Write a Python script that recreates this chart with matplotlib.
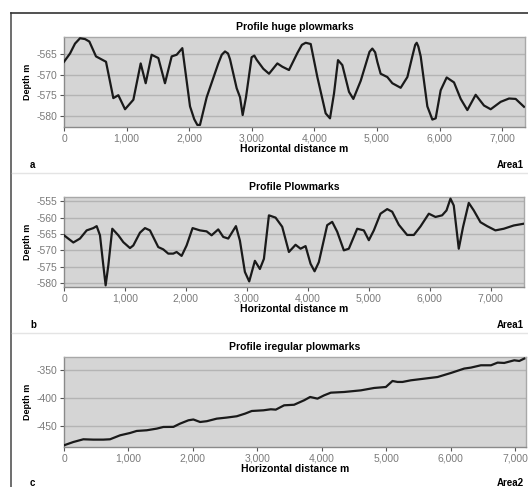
import matplotlib
matplotlib.use("Agg")
import matplotlib.pyplot as plt
import matplotlib.ticker as ticker
from matplotlib.lines import Line2D

plt.rcParams['font.family'] = ['Liberation Sans', 'DejaVu Sans']

# ---- data ----
# a: huge plowmarks (Area1)
dist_a = [0, 96, 176, 256, 335, 405, 511, 671, 788, 868, 975, 1108, 1225, 1305, 1400, 1507, 1613,
          1720, 1800, 1890, 2013, 2080, 2130, 2172, 2279, 2465, 2520, 2572, 2620, 2652, 2758, 2812, 2854,
          2907, 2997, 3040, 3077, 3184, 3275, 3408, 3488, 3594, 3727, 3800, 3861, 3941, 4047, 4180,
          4249, 4313, 4377, 4446, 4553, 4622, 4740, 4880, 4925, 4970, 5005, 5058, 5165, 5245, 5378,
          5485, 5564, 5610, 5634, 5660, 5698, 5804, 5884, 5937, 6017, 6113, 6230, 6337, 6443, 6576,
          6709, 6816, 6976, 7109, 7215, 7348]
depth_a = [-566.9, -564.9, -562.5, -561.2, -561.4, -562.0, -565.6, -566.9, -575.7, -575.0, -578.4, -576.1, -567.3,
           -572.1, -565.2, -566.0, -572.1, -565.6, -565.2, -563.6, -577.7, -580.8, -582.2, -582.2,
           -575.5, -567.3, -565.2, -564.4, -564.9, -566.3, -573.3, -575.5, -579.8, -575.5, -565.8, -565.4, -566.4,
           -568.6, -569.8, -567.3, -568.1, -568.9, -564.8, -562.8, -562.3, -562.6, -570.6, -579.4,
           -580.6, -574.6, -566.5, -567.7, -574.2, -575.9, -571.5, -564.5, -563.7, -564.6, -566.9, -569.8,
           -570.6, -572.1, -573.2, -570.6, -565.6, -562.8, -562.3, -563.2, -565.6, -577.7, -580.9, -580.6,
           -573.8, -570.7, -571.9, -575.9, -578.6, -574.9, -577.5, -578.4, -576.6, -575.8,
           -575.9, -577.8]

# b: plowmarks (Area1)
dist_b = [0, 153, 262, 372, 481, 536, 590, 645, 683, 727, 792, 891, 973, 1082, 1137, 1246,
          1328, 1410, 1546, 1628, 1710, 1792, 1847, 1929, 2011, 2109, 2230, 2339, 2421,
          2530, 2612, 2694, 2820, 2885, 2967, 3038, 3131, 3213, 3279, 3361, 3470, 3579,
          3689, 3798, 3880, 3962, 4044, 4110, 4180, 4317, 4399, 4481, 4590, 4672, 4809,
          4918, 5000, 5082, 5191, 5301, 5383, 5492, 5628, 5738, 5847, 5984, 6093, 6202,
          6274, 6339, 6393, 6475, 6546, 6639, 6721, 6831, 6940, 7076, 7213, 7377, 7530]
depth_b = [-565.4, -567.6, -566.4, -563.9, -563.2, -562.6, -565.4, -574.6, -580.7, -574.6,
           -563.4, -565.4, -567.5, -569.3, -568.5, -564.6, -563.2, -563.9, -569.0, -569.7,
           -571.0, -571.0, -570.5, -571.7, -568.5, -563.2, -563.9, -564.2, -565.4, -563.6,
           -565.9, -566.4, -562.6, -567.0, -576.6, -579.5, -573.2, -575.7, -572.6, -559.3,
           -560.0, -562.8, -570.5, -568.3, -569.5, -568.7, -574.1, -576.4, -573.6, -562.3,
           -561.3, -564.3, -570.0, -569.5, -563.4, -563.9, -566.9, -563.9, -558.8, -557.4,
           -558.2, -562.2, -565.3, -565.3, -562.7, -558.8, -559.8, -559.3, -557.8, -554.2,
           -556.3, -569.5, -562.8, -555.5, -557.8, -561.4, -562.6, -563.9, -563.4, -562.4,
           -561.9]

# c: irregular plowmarks (Area2)
dist_c = [0, 145, 300, 455, 610, 714, 870, 1025, 1128, 1284, 1439, 1542, 1698, 1801, 1931,
          2008, 2112, 2216, 2371, 2526, 2681, 2811, 2914, 3095, 3209, 3287, 3416, 3571,
          3727, 3820, 3934, 4037, 4141, 4348, 4607, 4814, 4995, 5098, 5176, 5253, 5383,
          5590, 5797, 6004, 6211, 6315, 6470, 6626, 6729, 6832, 6988, 7066, 7143]
depth_c = [-483.5, -477.7, -472.9, -473.5, -473.5, -472.9, -465.9, -461.8, -458.2, -457.0,
           -454.1, -451.2, -451.0, -445.3, -439.4, -438.0, -442.4, -441.0, -436.5, -434.6,
           -432.3, -427.6, -423.0, -421.8, -420.0, -420.6, -413.0, -412.0, -404.1, -398.3,
           -401.2, -395.4, -390.7, -389.5, -386.6, -382.4, -380.7, -370.1, -371.8, -371.8,
           -368.9, -366.0, -363.1, -356.0, -348.2, -346.5, -342.4, -342.4, -337.7, -338.3,
           -333.6, -334.8, -330.6]

titles = ["Profile huge plowmarks", "Profile Plowmarks", "Profile iregular plowmarks"]
letters = ["a", "b", "c"]
areas = ["Area1", "Area1", "Area2"]
yticks = [[-565, -570, -575, -580],
          [-555, -560, -565, -570, -575, -580],
          [-350, -400, -450]]
ylims = [(-582.7, -560.9), (-581.2, -553.7), (-486.5, -327.8)]
xlims = [7364, 7545, 7170]
series = [(dist_a, depth_a), (dist_b, depth_b), (dist_c, depth_c)]

W, H = 528, 487
fig = plt.figure(figsize=(W / 100, H / 100), dpi=100)
fig.patch.set_facecolor("white")

# panel boxes in pixels: (left, top, right, bottom)
boxes = [(64, 37, 525, 127), (64, 197, 524, 287), (64, 357, 526, 447)]
letter_y = [165, 325, 483]
sep_y = [173, 333]

AX_BG = "#d5d5d5"
GRID = "#b4b4b4"
TICK_C = "#7a7a7a"

for i, (x, y) in enumerate(series):
    l, t, r, b = boxes[i]
    ax = fig.add_axes([l / W, 1 - b / H, (r - l) / W, (b - t) / H])
    ax.set_facecolor(AX_BG)
    ax.plot(x, y, color="#1a1a1a", lw=1.6, solid_joinstyle="round", zorder=3)
    ax.set_xlim(0, xlims[i])
    ax.set_ylim(*ylims[i])
    ax.set_yticks(yticks[i])
    ax.set_xticks(range(0, 8000, 1000))
    ax.xaxis.set_major_formatter(ticker.FuncFormatter(lambda v, _: f"{v:,.0f}"))
    ax.yaxis.set_major_formatter(ticker.FuncFormatter(lambda v, _: f"{v:.0f}"))
    ax.grid(True, axis="y", color=GRID, lw=1.0, zorder=1)
    ax.tick_params(axis="both", colors="#555555", labelcolor=TICK_C, labelsize=7.5,
                   length=3, width=0.8, pad=2)
    for s in ax.spines.values():
        s.set_edgecolor("#a8a8a8")
        s.set_linewidth(1.0)
    ax.spines["bottom"].set_edgecolor("#8a8a8a")
    ax.spines["left"].set_edgecolor("#8a8a8a")
    ax.set_title(titles[i], fontsize=7.5, fontweight="bold", pad=5)
    ax.set_ylabel("Depth m", fontsize=6.5, fontweight="bold", labelpad=3)
    ax.set_xlabel("Horizontal distance m", fontsize=7.5, fontweight="bold", labelpad=0)
    fig.text(30 / W, 1 - letter_y[i] / H, letters[i], fontsize=7, fontweight="bold",
             va="center", ha="left")
    fig.text(524 / W, 1 - letter_y[i] / H, areas[i], fontsize=7, fontweight="bold",
             va="center", ha="right")

# outer frame and panel separators
fig.add_artist(Line2D([11 / W, 11 / W], [0, 1 - 13 / H], transform=fig.transFigure,
                      color="#555555", lw=1.2))
fig.add_artist(Line2D([11 / W, 1], [1 - 13 / H, 1 - 13 / H], transform=fig.transFigure,
                      color="#333333", lw=1.2))
for sy in sep_y:
    fig.add_artist(Line2D([12 / W, 1], [1 - sy / H, 1 - sy / H], transform=fig.transFigure,
                          color="#e4e4e4", lw=1.0))

fig.savefig("out.png", dpi=100, facecolor="white")
